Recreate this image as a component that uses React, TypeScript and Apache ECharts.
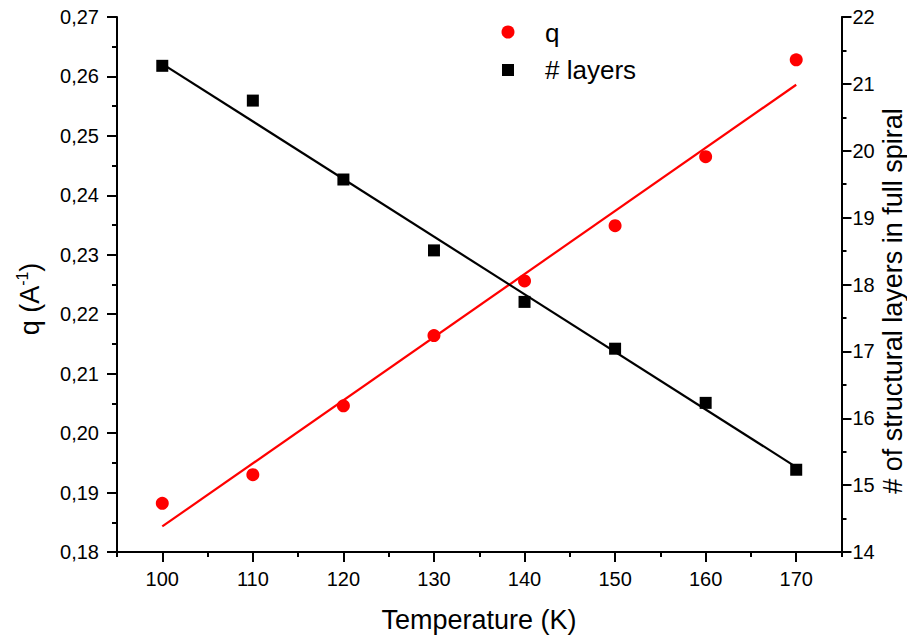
import React, { useEffect, useRef } from "react";
import * as echarts from "echarts";

const temps = [100, 110, 120, 130, 140, 150, 160, 170];
const qValues = [0.1882, 0.193, 0.2046, 0.2164, 0.2256, 0.2349, 0.2465, 0.2628];
const layerValues = [21.27, 20.75, 19.57, 18.51, 17.74, 17.04, 16.23, 15.23];
const fitX = [100, 170];
const qFitY = [0.1843, 0.2586];
const layerFitY = [21.3, 15.27];
const xTickLabels = [100, 110, 120, 130, 140, 150, 160, 170];

const FONT = "'Liberation Sans', Arial, sans-serif";

export default function App() {
  const ref = useRef<HTMLDivElement>(null);
  useEffect(() => {
    if (!ref.current) return;
    const chart = echarts.init(ref.current, undefined, { renderer: "svg" });
    const axisLine = { show: true, lineStyle: { color: "#000", width: 2 } };
    const labelStyle = { color: "#000", fontSize: 20, fontFamily: FONT };
    const txt = (extra: any) => ({
      fill: "#000",
      font: `27px ${FONT}`,
      align: "center",
      verticalAlign: "middle",
      textAlign: "center",
      textVerticalAlign: "middle",
      ...extra,
    });
    chart.setOption({
      animation: false,
      backgroundColor: "#fff",
      grid: { left: 117, right: 65.5, top: 17, bottom: 88, containLabel: false },
      xAxis: [
        {
          type: "value",
          min: 95,
          max: 175,
          interval: 5,
          position: "bottom",
          axisLine,
          axisTick: { show: true, length: 5, lineStyle: { color: "#000", width: 2 } },
          axisLabel: { show: false },
          splitLine: { show: false },
        },
        {
          type: "value",
          min: 95,
          max: 175,
          position: "bottom",
          axisLine: { show: false },
          axisTick: {
            show: true,
            length: 10,
            customValues: xTickLabels,
            lineStyle: { color: "#000", width: 2 },
          },
          axisLabel: { ...labelStyle, margin: 17, customValues: xTickLabels },
          splitLine: { show: false },
        },
      ],
      yAxis: [
        {
          type: "value",
          min: 0.18,
          max: 0.27,
          interval: 0.01,
          position: "left",
          axisLine,
          axisTick: { show: true, length: 10, lineStyle: { color: "#000", width: 2 } },
          minorTick: { show: true, splitNumber: 2, length: 5, lineStyle: { color: "#000", width: 2 } },
          axisLabel: {
            ...labelStyle,
            margin: 18,
            formatter: (v: number) => v.toFixed(2).replace(".", ","),
          },
          splitLine: { show: false },
        },
        {
          type: "value",
          min: 14,
          max: 22,
          interval: 1,
          position: "right",
          axisLine,
          axisTick: { show: true, length: 10, lineStyle: { color: "#000", width: 2 } },
          minorTick: { show: true, splitNumber: 2, length: 5, lineStyle: { color: "#000", width: 2 } },
          axisLabel: { ...labelStyle, margin: 11 },
          splitLine: { show: false },
        },
      ],
      series: [
        {
          name: "q fit",
          type: "line",
          xAxisIndex: 0,
          yAxisIndex: 0,
          data: fitX.map((x, i) => [x, qFitY[i]]),
          symbol: "none",
          lineStyle: { color: "#ff0000", width: 2.2 },
          z: 2,
        },
        {
          name: "layers fit",
          type: "line",
          xAxisIndex: 0,
          yAxisIndex: 1,
          data: fitX.map((x, i) => [x, layerFitY[i]]),
          symbol: "none",
          lineStyle: { color: "#000", width: 2.2 },
          z: 2,
        },
        {
          name: "q",
          type: "scatter",
          xAxisIndex: 0,
          yAxisIndex: 0,
          data: temps.map((t, i) => [t, qValues[i]]),
          symbol: "circle",
          symbolSize: 13,
          itemStyle: { color: "#ff0000", opacity: 1 },
          z: 5,
        },
        {
          name: "# layers",
          type: "scatter",
          xAxisIndex: 0,
          yAxisIndex: 1,
          data: temps.map((t, i) => [t, layerValues[i]]),
          symbol: "rect",
          symbolSize: 12,
          itemStyle: { color: "#000", opacity: 1 },
          z: 5,
        },
      ],
      graphic: [
        { type: "circle", shape: { cx: 508, cy: 32, r: 6.5 }, style: { fill: "#ff0000" } },
        { type: "rect", shape: { x: 502, y: 64, width: 12, height: 12 }, style: { fill: "#000" } },
        {
          type: "text",
          x: 545,
          y: 33,
          style: txt({ text: "q", font: `26px ${FONT}`, align: "left", textAlign: "left" }),
        },
        {
          type: "text",
          x: 545,
          y: 70,
          style: txt({ text: "# layers", font: `26px ${FONT}`, align: "left", textAlign: "left" }),
        },
        {
          type: "text",
          x: 479,
          y: 620,
          style: txt({ text: "Temperature (K)" }),
        },
        {
          type: "text",
          x: 893,
          y: 301,
          rotation: Math.PI / 2,
          style: txt({ text: "# of structural layers in full spiral" }),
        },
        {
          type: "text",
          x: 30,
          y: 299,
          rotation: Math.PI / 2,
          style: {
            text: "{a|q (A}{s|-1}{a|)}",
            fill: "#000",
            align: "center",
            verticalAlign: "middle",
            textAlign: "center",
            textVerticalAlign: "middle",
            rich: {
              a: { fontSize: 27, fontFamily: FONT, fill: "#000", lineHeight: 32 },
              s: { fontSize: 16, fontFamily: FONT, fill: "#000", verticalAlign: "top", lineHeight: 32, padding: [0, 0, 10, 0] },
            },
          },
        },
      ],
    });
    return () => chart.dispose();
  }, []);
  return <div ref={ref} style={{ position: "absolute", left: 0, top: 0, width: 907, height: 640 }} />;
}
